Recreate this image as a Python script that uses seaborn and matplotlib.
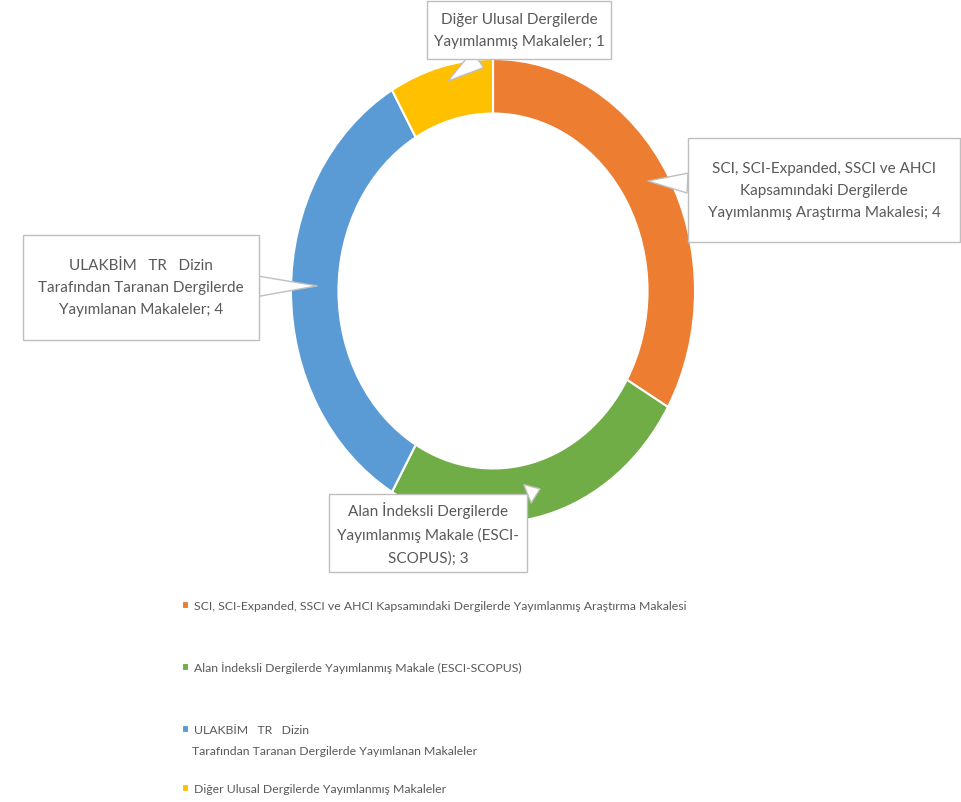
import matplotlib
matplotlib.use("Agg")
import matplotlib.pyplot as plt
from matplotlib.path import Path
import seaborn as sns

# Makale dağılımı - halka grafik

categories = [
    "SCI, SCI-Expanded, SSCI ve AHCI Kapsamındaki Dergilerde Yayımlanmış Araştırma Makalesi",
    "Alan İndeksli Dergilerde Yayımlanmış Makale (ESCI-SCOPUS)",
    "ULAKBİM   TR   Dizin\nTarafından Taranan Dergilerde Yayımlanan Makaleler",
    "Diğer Ulusal Dergilerde Yayımlanmış Makaleler",
]
values = [4, 3, 4, 1]
callout_labels = [
    "SCI, SCI-Expanded, SSCI ve AHCI\nKapsamındaki Dergilerde\nYayımlanmış Araştırma Makalesi",
    "Alan İndeksli Dergilerde\nYayımlanmış Makale (ESCI-\nSCOPUS)",
    "ULAKBİM   TR   Dizin\nTarafından Taranan Dergilerde\nYayımlanan Makaleler",
    "Diğer Ulusal Dergilerde\nYayımlanmış Makaleler",
]
colors = ["#ED7D31", "#70AD47", "#5B9BD5", "#FFC000"]

sns.set_theme(style="white")
plt.rcParams["font.family"] = ["Lato", "DejaVu Sans"]
txt_color = "#595959"


def fixed_box(bw, bh):
    # callout box of a fixed size (pixels), centred on the text
    def style(x0, y0, width, height, mutation_size):
        cx, cy = x0 + width / 2, y0 + height / 2
        l, r, b, t = cx - bw / 2, cx + bw / 2, cy - bh / 2, cy + bh / 2
        return Path([(l, b), (r, b), (r, t), (l, t), (l, b)], closed=True)
    return style


W, H = 961, 803
fig = plt.figure(figsize=(W / 100, H / 100), dpi=100)
# donut is a bit squeezed horizontally in the original
ax = fig.add_axes([291 / W, (511 - 232) / H, 404 / W, 464 / H])

wedges, _ = ax.pie(values, colors=colors, startangle=90, counterclock=False,
                   radius=1, wedgeprops=dict(width=0.235, edgecolor="white", linewidth=1.5))
ax.set_aspect("auto")
ax.set_xlim(-1, 1)
ax.set_ylim(-1, 1)
ax.axis("off")

# callouts: tip (data), box centre (figure pixels), box size (pixels)
tips = [(0.767, 0.474), (0.233, -0.853), (-0.871, 0.022), (-0.223, 0.905)]
boxes = [(824, H - 191), (428, H - 534), (141, H - 288), (519, H - 31)]
sizes = [(272, 104), (198, 78), (236, 105), (184, 58)]

for lab, v, tip, bx, sz in zip(callout_labels, values, tips, boxes, sizes):
    ax.annotate(f"{lab}; {v}", xy=tip, xycoords="data",
                xytext=bx, textcoords="figure pixels",
                ha="center", va="center", fontsize=11, color=txt_color,
                linespacing=1.75,
                bbox=dict(boxstyle=fixed_box(*sz), fc="white", ec="#bfbfbf", lw=1),
                arrowprops=dict(arrowstyle="wedge,tail_width=1.3,shrink_factor=0.5",
                                fc="white", ec="#bfbfbf", lw=1,
                                shrinkA=0, shrinkB=0))

# legend, one entry at a time to keep the spacing of the original
leg_y = [607, 668, 731, 790]
for w, lab, y in zip(wedges, categories, leg_y):
    first = lab.split("\n")[0]
    fig.legend([w], [first], loc="center left",
               bbox_to_anchor=(182 / W, 1 - y / H), frameon=False,
               borderpad=0, borderaxespad=0, handlelength=0.6, handleheight=0.6,
               handletextpad=0.35, fontsize=8.8, labelcolor=txt_color)
    if "\n" in lab:
        fig.text(192 / W, 1 - (y + 21) / H, lab.split("\n")[1], va="center",
                 fontsize=8.8, color=txt_color)

fig.savefig("out.png", dpi=100, facecolor="white")
